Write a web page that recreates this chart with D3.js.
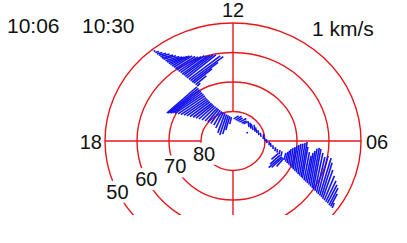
<!DOCTYPE html>
<html>
<head>
<meta charset="utf-8">
<script src="https://cdn.jsdelivr.net/npm/d3@7"></script>
<style>
  body { margin: 0; background: #fff; }
  svg text { font-family: "Liberation Sans", Arial, sans-serif; fill: #111; }
</style>
</head>
<body>
<div id="vis"></div>
<script>
////////// data //////////

var startTime = "10:06",
    endTime = "10:30",
    speedLabel = "1 km/s";

var latCircles = [80, 70, 60, 50];
var latLabelMlt = 19.7;
var mltLines = [0, 6, 12, 18];
var mltLabels = [{mlt: 12, text: "12"}, {mlt: 18, text: "18"}, {mlt: 6, text: "06"}];

// satellite track, degrees from the pole (toward 06 MLT, toward 12 MLT)
var trackX = [
  -25.3,-24.8,-24.3,-23.8,-23.2,-22.7,-22.2,-21.7,-21.1,-20.6,-20.1,-19.6,-19.1,-18.5,
  -18.0,-17.5,-17.0,-16.4,-15.9,-15.4,-14.9,-14.4,-13.8,-13.3,-12.8,-12.3,-11.7,-11.2,
  -11.3,-10.8,-10.4,-10.0,-9.6,-9.2,-8.8,-8.4,-8.0,-7.6,-7.2,-6.7,-6.3,-5.9,-5.4,-4.9,
  -4.5,-4.0,-3.5,-3.0,-2.5,-2.0,-1.5,-1.0,-0.5,
  0.2,0.8,1.4,2.0,2.7,3.3,4.4,
  5.0,5.6,6.3,6.9,7.5,8.1,8.8,9.4,10.0,10.6,11.3,11.9,12.5,13.1,13.8,14.4,15.0,
  14.2,14.7,15.2,15.5,15.8,
  15.9,16.4,16.9,17.4,17.9,18.4,18.8,19.3,19.8,20.3,20.8,21.3,21.7,22.2,22.7,23.2,
  23.7,24.2,24.7,25.1,25.6,26.1,26.6,27.1,27.6,28.0,28.5,29.0,29.5,30.0,30.5,31.0
];
var trackY = [
  30.8,30.4,30.0,29.5,29.1,28.6,28.1,27.7,27.2,26.8,26.3,25.9,25.4,25.0,
  24.5,24.1,23.6,23.2,22.7,22.3,21.8,21.4,20.9,20.5,20.0,19.6,19.1,18.6,
  18.3,17.8,17.3,16.8,16.3,15.8,15.3,14.7,14.2,13.8,13.3,12.8,12.4,12.0,11.6,11.2,
  10.8,10.4,10.0,9.7,9.4,9.0,8.7,8.4,8.1,
  7.5,7.1,6.8,6.4,6.1,5.8,3.1,
  4.7,4.2,3.7,3.2,2.7,2.0,1.4,0.7,0.0,-0.7,-1.4,-2.0,-2.7,-3.4,-3.9,-4.4,-5.1,
  -4.2,-4.8,-5.3,-5.6,-5.9,
  -6.4,-7.0,-7.5,-8.0,-8.5,-9.1,-9.6,-10.1,-10.6,-11.2,-11.7,-12.2,-12.7,-13.3,-13.8,-14.3,
  -14.8,-15.4,-15.9,-16.4,-16.9,-17.5,-18.0,-18.5,-19.0,-19.6,-20.1,-20.6,-21.1,-21.7,-22.2,-22.7
];

// ion drift, km/s (toward dawn, toward noon)
var velE = [
  0.02,0.09,0.19,0.28,0.37,0.46,0.55,0.62,0.69,0.75,0.79,0.84,0.88,0.92,
  0.99,1.05,1.12,1.19,1.25,1.32,1.39,1.45,1.57,1.64,1.30,0.92,0.54,0.15,
  -1.50,-1.52,-1.51,-1.50,-1.46,-1.43,-1.34,-1.26,-1.17,-1.09,-1.00,-0.92,-0.84,-0.76,-0.69,-0.61,
  -0.54,-0.47,-0.40,-0.38,-0.36,-0.34,-0.27,-0.20,-0.08,
  0.25,0.30,0.25,0.35,0.25,0.20,0.02,
  -0.05,-0.05,-0.10,-0.05,-0.08,-0.05,-0.05,0.03,-0.05,-0.03,0.00,-0.03,0.00,0.03,0.00,0.05,0.05,
  -0.35,-0.50,-0.65,-0.55,-0.35,
  0.10,0.12,0.12,0.12,0.14,0.16,0.19,0.21,0.23,0.25,0.28,0.30,0.27,0.27,0.27,0.29,
  0.31,0.33,0.36,0.38,0.40,0.42,0.50,0.57,0.54,0.51,0.51,0.51,0.48,0.45,0.33,0.10
];
var velN = [
  0.01,0.03,0.05,0.07,0.10,0.13,0.15,0.18,0.21,0.25,0.32,0.41,0.50,0.57,
  0.61,0.65,0.74,0.84,0.90,0.99,1.09,1.15,1.17,1.19,0.98,0.72,0.44,0.15,
  -1.30,-1.23,-1.15,-1.08,-1.00,-0.95,-0.90,-0.85,-0.80,-0.78,-0.74,-0.70,-0.68,-0.67,-0.66,-0.65,
  -0.64,-0.66,-0.68,-0.78,-0.98,-1.03,-0.94,-0.69,-0.35,
  0.15,0.20,0.15,0.18,0.10,0.10,-0.08,
  0.30,0.30,0.30,0.33,0.28,0.25,0.20,0.25,0.18,0.20,0.18,0.20,0.18,0.20,0.18,0.20,0.23,
  -0.30,-0.45,-0.55,-0.50,-0.40,
  0.35,0.48,0.63,0.78,0.91,1.04,1.17,1.29,1.42,1.52,1.63,1.75,1.58,1.41,1.29,1.51,
  1.69,1.89,2.00,2.02,1.90,1.78,1.91,1.88,1.71,1.44,1.22,1.04,0.92,0.85,0.63,0.25
];


////////// set up //////////

var width = 407, height = 243;

// polar grid: degrees from the pole -> pixels (plot is slightly squashed vertically)
var x = d3.scaleLinear().domain([-40, 40]).range([105, 361]);
var y = d3.scaleLinear().domain([-40, 40]).range([259, 23]);
// drift speed -> vector length
var v = d3.scaleLinear().domain([0, 1]).range([0, 20]);

function polar(lat, mlt) {
  var c = 90 - lat, phi = (mlt - 12) * Math.PI / 12;
  return [-c * Math.sin(phi), c * Math.cos(phi)];
}

var svg = d3.select("#vis")
  .append("svg")
    .attr("width", width)
    .attr("height", height);

svg.append("clipPath")
    .attr("id", "clip")
  .append("rect")
    .attr("x", 0).attr("y", 0)
    .attr("width", width).attr("height", 215);

var grid = svg.append("g")
    .attr("clip-path", "url(#clip)")
    .attr("fill", "none")
    .attr("stroke", "#e8161c")
    .attr("stroke-width", 1.4);

grid.selectAll("ellipse")
    .data(latCircles)
  .enter().append("ellipse")
    .attr("cx", x(0))
    .attr("cy", y(0))
    .attr("rx", function(d) { return x(90 - d) - x(0); })
    .attr("ry", function(d) { return y(0) - y(90 - d); });

grid.selectAll("line")
    .data(mltLines)
  .enter().append("line")
    .attr("x1", function(d) { return x(polar(80, d)[0]); })
    .attr("y1", function(d) { return y(polar(80, d)[1]); })
    .attr("x2", function(d) { return x(polar(50, d)[0]); })
    .attr("y2", function(d) { return y(polar(50, d)[1]); });

// latitude labels sit on a white patch that breaks the circles
var latLab = svg.append("g")
  .selectAll("g")
    .data(latCircles)
  .enter().append("g");

latLab.append("text")
    .attr("x", function(d) { return x(polar(d, latLabelMlt)[0]); })
    .attr("y", function(d) { return y(polar(d, latLabelMlt)[1]); })
    .attr("dy", "0.35em")
    .attr("text-anchor", "middle")
    .style("font-size", "20px")
    .text(function(d) { return d; });

latLab.each(function() {
  var g = d3.select(this),
      b = g.select("text").node().getBBox();
  g.insert("rect", "text")
      .attr("x", b.x - 1).attr("y", b.y)
      .attr("width", b.width + 2).attr("height", b.height)
      .attr("fill", "#fff");
});

// MLT labels
svg.selectAll(".mlt")
    .data(mltLabels)
  .enter().append("text")
    .attr("class", "mlt")
    .style("font-size", "20px")
    .attr("x", function(d) {
      var px = x(polar(50, d.mlt)[0]);
      return d.mlt == 18 ? px - 3 : d.mlt == 6 ? px + 5 : px;
    })
    .attr("y", function(d) {
      var py = y(polar(50, d.mlt)[1]);
      return d.mlt == 12 ? py - 6 : py + 8;
    })
    .attr("text-anchor", function(d) {
      return d.mlt == 18 ? "end" : d.mlt == 6 ? "start" : "middle";
    })
    .text(function(d) { return d.text; });

// drift vectors
svg.append("g")
    .attr("stroke", "#1212f2")
    .attr("stroke-width", 1.6)
  .selectAll("line")
    .data(d3.range(trackX.length))
  .enter().append("line")
    .attr("x1", function(i) { return x(trackX[i]); })
    .attr("y1", function(i) { return y(trackY[i]); })
    .attr("x2", function(i) { return x(trackX[i]) + v(velE[i]); })
    .attr("y2", function(i) { return y(trackY[i]) - v(velN[i]); });

// header texts
svg.append("text").attr("x", 7).attr("y", 33).style("font-size", "21px").text(startTime);
svg.append("text").attr("x", 82).attr("y", 33).style("font-size", "21px").text(endTime);
svg.append("text").attr("x", 312).attr("y", 36).style("font-size", "21px").text(speedLabel);
</script>
</body>
</html>
